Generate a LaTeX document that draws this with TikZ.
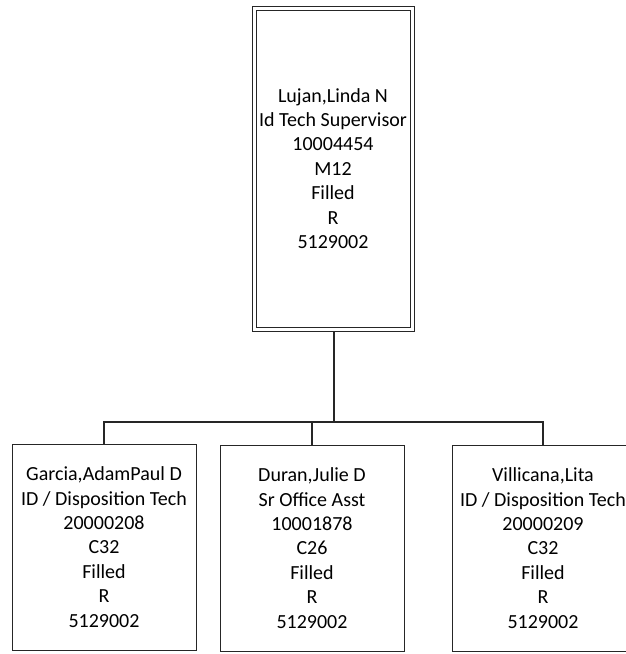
\documentclass[tikz,border=0pt]{standalone}
\usepackage{fontspec}
\setmainfont{Carlito}
\begin{document}
\begin{tikzpicture}[x=1pt,y=-1pt,
  box/.style={draw=black!85,line width=0.8pt,fill=white,inner sep=0pt,outer sep=0pt,
    align=center,font=\fontsize{20}{24.4}\selectfont},
  topbox/.style={box,minimum width=162pt,minimum height=325pt},
  innerline/.style={draw=black!85,line width=0.8pt},
  childbox/.style={box,minimum width=184pt,minimum height=206pt},
  conn/.style={draw=black!85,line width=1.4pt}]
\useasboundingbox[fill=white] (0,0) rectangle (626,654);
\node[topbox] (top) at (333,168.5) {\raisebox{-2pt}{\parbox{158pt}{\centering Lujan,Linda N\\Id Tech Supervisor\\10004454\\M12\\Filled\\R\\5129002}}};
\draw[innerline] ([shift={(4,4)}]top.north west) rectangle ([shift={(-4,-4)}]top.south east);
\node[childbox] (c1) at (104,547) {Garcia,AdamPaul D\\ID / Disposition Tech\\20000208\\C32\\Filled\\R\\5129002};
\node[childbox] (c2) at (312,548) {Duran,Julie D\\Sr Office Asst\\10001878\\C26\\Filled\\R\\5129002};
\node[childbox,minimum width=182pt] (c3) at (543,548) {Villicana,Lita\\ID / Disposition Tech\\20000209\\C32\\Filled\\R\\5129002};
\coordinate (j) at (334,422);
\draw[conn] (top.south -| j) -- (j);
\draw[conn] (c1.north) -- (c1.north |- j) -- (c3.north |- j) -- (c3.north);
\draw[conn] (c2.north) -- (c2.north |- j);
\end{tikzpicture}
\end{document}
